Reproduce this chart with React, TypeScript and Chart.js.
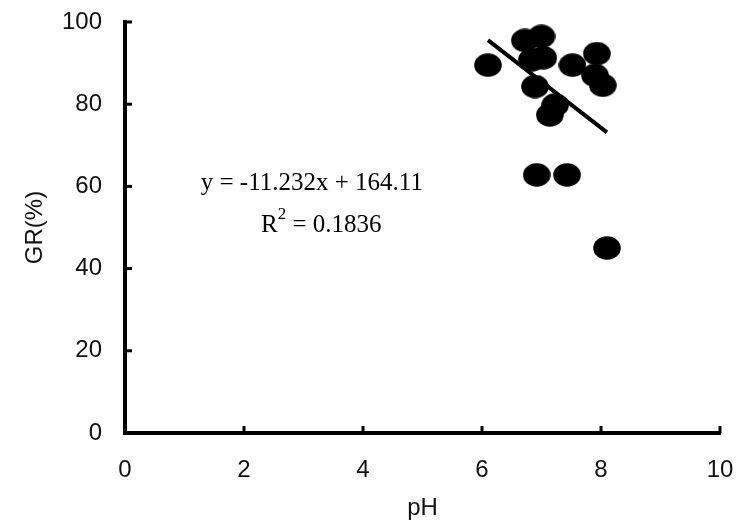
import { useEffect, useRef } from "react";
import { Chart, registerables } from "chart.js";

Chart.register(...registerables);

// Observed samples: soil pH against germination rate (%)
const phValues = [6.1, 6.72, 7.0, 6.84, 7.03, 6.89, 7.14, 7.23, 7.52, 7.93, 7.9, 8.03, 6.92, 7.43, 8.1];
const grValues = [89.5, 95.5, 96.5, 90.8, 91.3, 84.3, 77.4, 79.8, 89.5, 92.3, 87, 84.6, 62.8, 62.8, 45];

// Linear fit reported for the samples
const fitSlope = -11.232;
const fitIntercept = 164.11;
const fitR2 = 0.1836;

const xTicks = [0, 2, 4, 6, 8, 10];
const yTicks = [0, 20, 40, 60, 80, 100];

const equationText = `y = ${fitSlope}x + ${fitIntercept}`;
const r2Text = ` = ${fitR2}`;

function makeBlob(): HTMLCanvasElement {
  const c = document.createElement("canvas");
  c.width = 28;
  c.height = 24;
  const g = c.getContext("2d")!;
  g.fillStyle = "#000";
  g.beginPath();
  g.ellipse(14, 12, 13.8, 11.8, 0, 0, Math.PI * 2);
  g.fill();
  return c;
}

// Short inward tick marks on both axes
const inwardTicks = {
  id: "inwardTicks",
  afterDatasetsDraw(chart: any) {
    const { ctx, chartArea, scales } = chart;
    ctx.save();
    ctx.strokeStyle = "#000";
    ctx.lineWidth = 3;
    xTicks.slice(1).forEach((v) => {
      const px = scales.x.getPixelForValue(v);
      ctx.beginPath();
      ctx.moveTo(px, chartArea.bottom);
      ctx.lineTo(px, chartArea.bottom - 7);
      ctx.stroke();
    });
    yTicks.slice(1).forEach((v) => {
      const py = scales.y.getPixelForValue(v);
      ctx.beginPath();
      ctx.moveTo(chartArea.left, py);
      ctx.lineTo(chartArea.left + 7, py);
      ctx.stroke();
    });
    ctx.restore();
  },
};

// Regression equation and R² written inside the plot
const fitLabel = {
  id: "fitLabel",
  afterDraw(chart: any) {
    const { ctx, scales } = chart;
    ctx.save();
    ctx.fillStyle = "#000";
    ctx.textBaseline = "middle";
    ctx.font = '25px "Liberation Serif"';
    const cx1 = scales.x.getPixelForValue(3.14);
    const cy1 = scales.y.getPixelForValue(60.6);
    ctx.textAlign = "center";
    ctx.fillText(equationText, cx1, cy1);

    const cx2 = scales.x.getPixelForValue(3.3);
    const cy2 = scales.y.getPixelForValue(50.4);
    ctx.textAlign = "left";
    const rW = ctx.measureText("R").width;
    ctx.font = '17px "Liberation Serif"';
    const supW = ctx.measureText("2").width;
    ctx.font = '25px "Liberation Serif"';
    const restW = ctx.measureText(r2Text).width;
    const total = rW + supW + restW;
    let x = cx2 - total / 2;
    ctx.fillText("R", x, cy2);
    x += rW;
    ctx.font = '17px "Liberation Serif"';
    ctx.fillText("2", x, cy2 - 11);
    x += supW;
    ctx.font = '25px "Liberation Serif"';
    ctx.fillText(r2Text, x, cy2);
    ctx.restore();
  },
};

export default function App() {
  const canvasRef = useRef<HTMLCanvasElement>(null);

  useEffect(() => {
    if (!canvasRef.current) return;
    const points = phValues.map((x, i) => ({ x, y: grValues[i] }));
    const xMin = Math.min(...phValues);
    const xMax = Math.max(...phValues);
    const fitLine = [xMin, xMax].map((x) => ({ x, y: fitSlope * x + fitIntercept }));
    const blob = makeBlob();

    const tickFont = { family: '"Liberation Sans", Arial, sans-serif', size: 24 };
    const titleFont = { family: '"Liberation Sans", Arial, sans-serif', size: 24 };

    const chart = new Chart(canvasRef.current, {
      type: "scatter",
      data: {
        datasets: [
          {
            type: "line",
            data: fitLine,
            borderColor: "#000",
            borderWidth: 4,
            pointRadius: 0,
            fill: false,
            order: 0,
          } as any,
          {
            data: points,
            pointStyle: blob as any,
            pointRadius: 13,
            backgroundColor: "#000",
            borderColor: "#000",
            order: 1,
          },
        ],
      },
      options: {
        animation: false,
        responsive: false,
        devicePixelRatio: 1,
        layout: { autoPadding: false, padding: { top: 22, right: 18, left: 0, bottom: 0 } },
        plugins: { legend: { display: false }, tooltip: { enabled: false } },
        scales: {
          x: {
            type: "linear",
            min: 0,
            max: 10,
            afterBuildTicks: (s: any) => {
              s.ticks = xTicks.map((value) => ({ value }));
            },
            afterFit: (s: any) => {
              s.height = 93;
              s.paddingLeft = 0;
              s.paddingRight = 0;
            },
            grid: { display: false, drawTicks: false },
            border: { display: true, color: "#000", width: 4 },
            ticks: { color: "#111", font: tickFont, padding: 23, maxRotation: 0 },
            title: {
              display: true,
              text: "pH",
              color: "#111",
              font: titleFont,
              padding: { top: 0, bottom: 3 },
            },
          },
          y: {
            type: "linear",
            min: 0,
            max: 100,
            afterBuildTicks: (s: any) => {
              s.ticks = yTicks.map((value) => ({ value }));
            },
            afterFit: (s: any) => {
              s.width = 125;
              s.paddingTop = 0;
              s.paddingBottom = 0;
            },
            grid: { display: false, drawTicks: false },
            border: { display: true, color: "#000", width: 4 },
            ticks: { color: "#111", font: tickFont, padding: 23 },
            title: {
              display: true,
              text: "GR(%)",
              color: "#111",
              font: titleFont,
              padding: { top: 21, bottom: 0 },
            },
          },
        },
      },
      plugins: [inwardTicks, fitLabel],
    });
    return () => chart.destroy();
  }, []);

  return (
    <div style={{ position: "fixed", left: 0, top: 0, width: 738, height: 526, background: "#fff" }}>
      <canvas ref={canvasRef} width={738} height={526} style={{ display: "block" }} />
    </div>
  );
}
